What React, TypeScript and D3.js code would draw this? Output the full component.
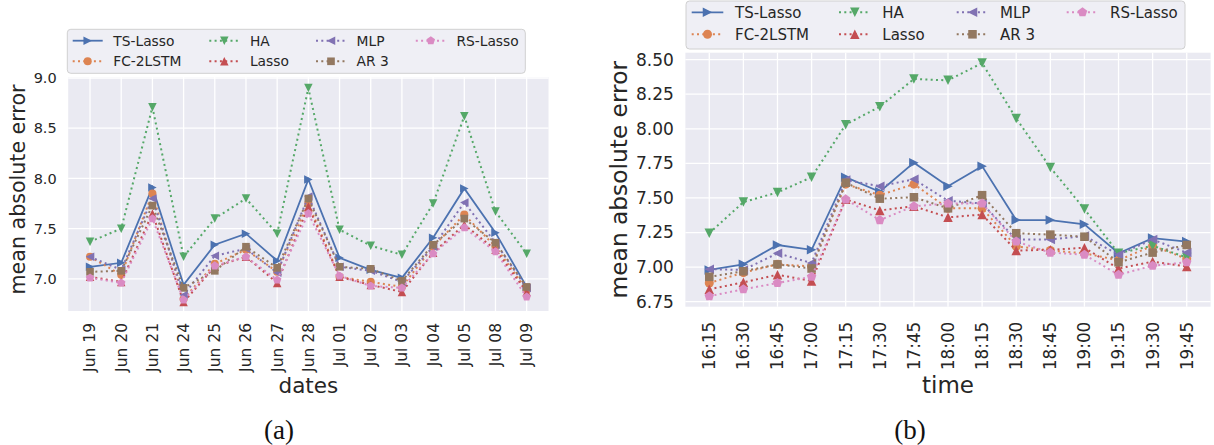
import React from "react";
import * as d3 from "d3";

// ---------- data ----------
const dates = ["Jun 19","Jun 20","Jun 21","Jun 24","Jun 25","Jun 26","Jun 27","Jun 28","Jul 01","Jul 02","Jul 03","Jul 04","Jul 05","Jul 08","Jul 09"];
const times = ["16:15","16:30","16:45","17:00","17:15","17:30","17:45","18:00","18:15","18:30","18:45","19:00","19:15","19:30","19:45"];

const seriesNames = ["TS-Lasso","FC-2LSTM","HA","Lasso","MLP","AR 3","RS-Lasso"];

const tsLassoA = [7.12, 7.16, 7.91, 6.94, 7.34, 7.45, 7.18, 7.99, 7.21, 7.09, 7.01, 7.41, 7.90, 7.46, 6.92];
const fc2lstmA = [7.22, 7.04, 7.85, 6.80, 7.15, 7.29, 7.07, 7.75, 7.02, 6.97, 6.92, 7.32, 7.64, 7.32, 6.89];
const haA      = [7.37, 7.50, 8.71, 7.22, 7.60, 7.80, 7.45, 8.90, 7.49, 7.33, 7.24, 7.75, 8.62, 7.67, 7.25];
const lassoA   = [7.02, 6.97, 7.65, 6.77, 7.12, 7.22, 6.96, 7.72, 7.02, 6.94, 6.87, 7.26, 7.54, 7.29, 6.87];
const mlpA     = [7.22, 7.09, 7.80, 6.84, 7.23, 7.30, 7.06, 7.82, 7.12, 7.08, 6.97, 7.32, 7.76, 7.36, 6.91];
const ar3A     = [7.07, 7.08, 7.73, 6.91, 7.08, 7.32, 7.11, 7.80, 7.12, 7.10, 6.98, 7.34, 7.60, 7.36, 6.92];
const rsLassoA = [7.01, 6.96, 7.60, 6.79, 7.13, 7.22, 6.99, 7.65, 7.03, 6.93, 6.91, 7.25, 7.51, 7.27, 6.82];

const tsLassoB = [6.98, 7.02, 7.16, 7.125, 7.65, 7.545, 7.755, 7.585, 7.73, 7.34, 7.34, 7.31, 7.10, 7.21, 7.185];
const fc2lstmB = [6.885, 6.96, 7.02, 7.005, 7.60, 7.52, 7.60, 7.425, 7.425, 7.15, 7.12, 7.10, 7.05, 7.155, 7.06];
const haB      = [7.245, 7.47, 7.54, 7.65, 8.03, 8.16, 8.36, 8.35, 8.475, 8.075, 7.72, 7.42, 7.10, 7.155, 7.07];
const lassoB   = [6.84, 6.89, 6.945, 6.90, 7.49, 7.41, 7.44, 7.36, 7.38, 7.12, 7.125, 7.14, 6.99, 7.04, 7.005];
const mlpB     = [6.985, 6.98, 7.10, 7.03, 7.63, 7.585, 7.635, 7.48, 7.46, 7.20, 7.20, 7.225, 7.09, 7.20, 7.105];
const ar3B     = [6.93, 6.97, 7.02, 6.99, 7.61, 7.495, 7.505, 7.425, 7.52, 7.245, 7.235, 7.22, 7.035, 7.105, 7.16];
const rsLassoB = [6.79, 6.84, 6.885, 6.93, 7.49, 7.34, 7.44, 7.46, 7.46, 7.185, 7.105, 7.09, 6.945, 7.01, 7.035];

const yTicksA = [7.0, 7.5, 8.0, 8.5, 9.0];
const yTicksB = [6.75, 7.0, 7.25, 7.5, 7.75, 8.0, 8.25, 8.5];

// ---------- styles ----------
const colors = ["#4C72B0", "#DD8452", "#55A868", "#C44E52", "#8172B3", "#937860", "#DA8BC3"];
const markers = [">", "o", "v", "^", "<", "s", "p"];
const solid = [true, false, false, false, false, false, false];
const FONT = "DejaVu Sans, sans-serif";
const TXT = "#262626";

function Marker({ type, x, y, size, color }: any) {
  const h = size / 2;
  let d = "";
  if (type === "o") return <circle cx={x} cy={y} r={h * 0.95} fill={color} />;
  if (type === ">") d = `M${h},0L${-h},${-h}L${-h},${h}Z`;
  if (type === "<") d = `M${-h},0L${h},${-h}L${h},${h}Z`;
  if (type === "v") d = `M0,${h}L${-h},${-h}L${h},${-h}Z`;
  if (type === "^") d = `M0,${-h}L${-h},${h}L${h},${h}Z`;
  if (type === "s") { const s = h * 0.9; d = `M${-s},${-s}L${s},${-s}L${s},${s}L${-s},${s}Z`; }
  if (type === "p") {
    const r = h * 1.05;
    const pts = d3.range(5).map(k => {
      const a = -Math.PI / 2 + (k * 2 * Math.PI) / 5;
      return [r * Math.cos(a), r * Math.sin(a)];
    });
    d = "M" + pts.map(p => p.join(",")).join("L") + "Z";
  }
  return <path d={d} transform={`translate(${x},${y})`} fill={color} />;
}

function Panel(props: any) {
  const { cats, data, yTicks, fmt, x0, x1, yTop, yBot, yDomain, tickFs, xTickFs, labelFs, xLabel, xLabelFs,
    yLabelX, yLabelY, xLabelY, xTickPad, legend, caption, captionX, msize, lw } = props;
  const x = d3.scaleLinear().domain([-0.7, cats.length - 1 + 0.7]).range([x0, x1]);
  const y = d3.scaleLinear().domain(yDomain).range([yBot, yTop]);
  const line = d3.line<number>().x((_, i) => x(i)).y(v => y(v));
  const dash = `${lw},${lw * 1.65}`;
  return (
    <g>
      <rect x={x0} y={yTop} width={x1 - x0} height={yBot - yTop} fill="#EAEAF2" />
      {yTicks.map((t: number) => (
        <g key={"y" + t}>
          <line x1={x0} x2={x1} y1={y(t)} y2={y(t)} stroke="#fff" strokeWidth={1.3} />
          <text x={x0 - 11.5} y={y(t)} dy="0.35em" textAnchor="end" fontFamily={FONT} fontSize={tickFs} fill={TXT}>{fmt(t)}</text>
        </g>
      ))}
      {cats.map((c: string, i: number) => (
        <g key={"x" + c}>
          <line x1={x(i)} x2={x(i)} y1={yTop} y2={yBot} stroke="#fff" strokeWidth={1.3} />
          <text transform={`translate(${x(i)},${yBot + xTickPad}) rotate(-90)`} dy="0.35em" textAnchor="end"
            fontFamily={FONT} fontSize={xTickFs} fill={TXT}>{c}</text>
        </g>
      ))}
      {data.map((vals: number[], si: number) => (
        <g key={"s" + si}>
          <path d={line(vals) as string} fill="none" stroke={colors[si]} strokeWidth={solid[si] ? lw * 0.9 : lw}
            strokeDasharray={solid[si] ? undefined : dash} />
          {vals.map((v, i) => <Marker key={i} type={markers[si]} x={x(i)} y={y(v)} size={msize} color={colors[si]} />)}
        </g>
      ))}
      <text transform={`translate(${yLabelX},${yLabelY}) rotate(-90)`} textAnchor="middle"
        fontFamily={FONT} fontSize={labelFs} fill={TXT}>mean absolute error</text>
      <text x={(x0 + x1) / 2} y={xLabelY} textAnchor="middle" fontFamily={FONT} fontSize={xLabelFs} fill={TXT}>{xLabel}</text>
      {/* legend */}
      <rect x={legend.x} y={legend.y} width={legend.w} height={legend.h} rx={3.5} fill="#EEEEF4" fillOpacity={0.95}
        stroke="#D0D0D0" strokeWidth={1} />
      {seriesNames.map((n, si) => {
        const col = Math.floor(si / 2);
        const row = si % 2;
        const lx = legend.cols[col];
        const ly = legend.rows[row];
        return (
          <g key={"l" + si}>
            <line x1={lx} x2={lx + legend.len} y1={ly} y2={ly} stroke={colors[si]} strokeWidth={solid[si] ? lw * 0.9 : lw}
              strokeDasharray={solid[si] ? undefined : dash} />
            <Marker type={markers[si]} x={lx + legend.len / 2} y={ly} size={msize} color={colors[si]} />
            <text x={lx + legend.len + legend.gap} y={ly} dy="0.35em" fontFamily={FONT} fontSize={legend.fs} fill={TXT}>{n}</text>
          </g>
        );
      })}
      <text x={captionX} y={439} textAnchor="middle" fontFamily="Liberation Serif, DejaVu Serif, serif" fontSize={27} fill="#111">{caption}</text>
    </g>
  );
}

export default function App() {
  const dataA = [tsLassoA, fc2lstmA, haA, lassoA, mlpA, ar3A, rsLassoA];
  const dataB = [tsLassoB, fc2lstmB, haB, lassoB, mlpB, ar3B, rsLassoB];
  return (
    <svg width={1214} height={445} style={{ position: "absolute", left: 0, top: 0, background: "#fff" }}>
      <Panel cats={dates} data={dataA} yTicks={yTicksA} fmt={d3.format(".1f")}
        x0={68.2} x1={548.5} yTop={77} yBot={311} yDomain={[6.68, 9.01]}
        tickFs={14.5} xTickFs={15.5} labelFs={20.6} xLabel="dates" xLabelFs={21.5}
        yLabelX={25} yLabelY={189.5} xLabelY={393} xTickPad={12} msize={8.5} lw={2}
        legend={{ x: 67.3, y: 29.3, w: 458, h: 44, cols: [72.7, 209.3, 316, 415.8], rows: [40.7, 61.3], len: 30, gap: 10.6, fs: 13.8 }}
        caption="(a)" captionX={279} />
      <Panel cats={times} data={dataB} yTicks={yTicksB} fmt={d3.format(".2f")}
        x0={685.4} x1={1210.6} yTop={52.7} yBot={306.7} yDomain={[6.714, 8.55]}
        tickFs={17} xTickFs={16.8} labelFs={23.3} xLabel="time" xLabelFs={23}
        yLabelX={626.7} yLabelY={179.7} xLabelY={393} xTickPad={15} msize={9.5} lw={2}
        legend={{ x: 686, y: 1, w: 499, h: 48, cols: [691.7, 839, 956.7, 1066.7], rows: [12.3, 34.3], len: 31.6, gap: 11.7, fs: 15 }}
        caption="(b)" captionX={910} />
    </svg>
  );
}
